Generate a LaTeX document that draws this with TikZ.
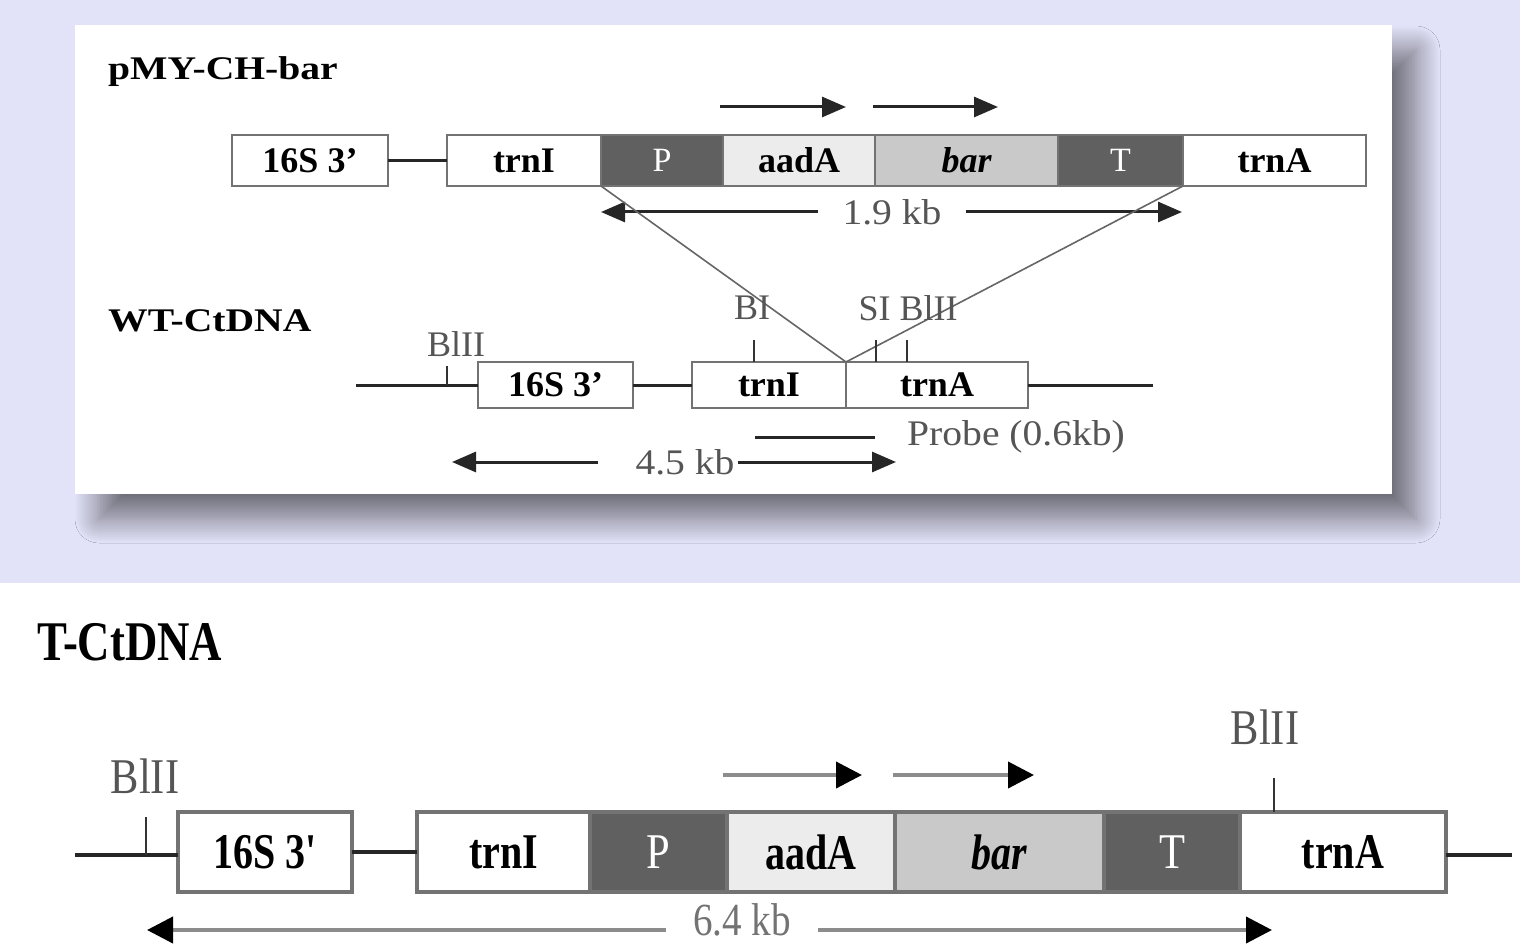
\documentclass[tikz,border=0pt]{standalone}
\usepackage{fontspec}
\setmainfont{Liberation Serif}
\newfontfamily\wideserif[FakeStretch=1.2]{Liberation Serif}
\newfontfamily\midserif[FakeStretch=1.1]{Liberation Serif}
\newfontfamily\narrowserif[FakeStretch=0.85]{Liberation Serif}
\newfontfamily\tightserif[FakeStretch=0.8]{Liberation Serif}
\usetikzlibrary{shadows.blur,arrows.meta}

\definecolor{lav}{RGB}{226,226,248}
\definecolor{boxedge}{RGB}{115,115,115}
\definecolor{darkfill}{RGB}{96,96,96}
\definecolor{lightfill}{RGB}{236,236,236}
\definecolor{midfill}{RGB}{201,201,201}
\definecolor{labgray}{RGB}{85,85,85}
\definecolor{linegray}{RGB}{140,140,140}

\begin{document}
\begin{tikzpicture}[x=1pt,y=-1pt,
  seg/.style={draw=boxedge, line width=2.5pt, inner sep=0pt, outer sep=0pt,
    minimum height=51pt, font=\fontsize{36}{38}\selectfont\bfseries},
  segB/.style={seg, minimum height=46pt},
  segC/.style={draw=boxedge, line width=3.5pt, inner sep=0pt, outer sep=0pt,
    minimum height=80pt, font=\fontsize{50}{54}\tightserif\bfseries},
  dark/.style={fill=darkfill, text=white},
  light/.style={fill=lightfill},
  mid/.style={fill=midfill},
  plain/.style={fill=white},
  wire/.style={line width=3pt, draw=black!85},
  wireC/.style={line width=3.5pt, draw=black!85},
  tick/.style={line width=2pt, draw=black!80},
  cross/.style={line width=1.6pt, draw=black!60},
  arr/.style={line width=3pt, draw=black!85, -{Triangle[length=24pt,width=20pt]}},
  arrC/.style={line width=4pt, draw=linegray, -{Triangle[length=26pt,width=26pt,color=black]}},
  title/.style={inner sep=0pt, anchor=base west, font=\fontsize{33}{35}\wideserif\bfseries},
  site/.style={inner sep=0pt, text=labgray, font=\fontsize{36}{38}\selectfont},
  size/.style={inner sep=0pt, text=labgray, font=\fontsize{36}{38}\midserif},
  siteC/.style={inner sep=0pt, text=labgray, font=\fontsize{50}{54}\narrowserif},
]
\useasboundingbox (0,0) rectangle (1520,944);

% backgrounds
\fill[lav] (0,0) rectangle (1520,583);
\fill[white] (0,583) rectangle (1520,944);
\fill[white, blur shadow={shadow xshift=24pt, shadow yshift=-25pt,
    shadow blur radius=24pt, shadow blur steps=16, shadow opacity=50}]
  (75,25) rectangle (1392,494);

% ---------------- plasmid pMY-CH-bar ----------------
\node[title] (tp) at (108,80) {pMY-CH-bar};

\node[seg, plain, minimum width=156pt] (s1) at (310,160.5) {16S 3'};
\node[seg, plain, minimum width=154pt] (i1) at (524,160.5) {trnI};
\node[seg, dark,  minimum width=122pt, font=\fontsize{34}{36}\selectfont] (p1) at (662,160.5) {P};
\node[seg, light, minimum width=152pt] (a1) at (799,160.5) {aadA};
\node[seg, mid,   minimum width=183pt] (b1) at (966.5,160.5) {\itshape bar};
\node[seg, dark,  minimum width=125pt, font=\fontsize{34}{36}\selectfont] (t1) at (1120.5,160.5) {T};
\node[seg, plain, minimum width=183pt] (r1) at (1274.5,160.5) {trnA};
\draw[wire] (s1.east) -- (i1.west);

% transcription direction
\coordinate (d1a) at (720,107);  \coordinate (d1b) at (846,107);
\coordinate (d2a) at (873,107);  \coordinate (d2b) at (998,107);
\draw[arr] (d1a) -- (d1b);
\draw[arr] (d2a) -- (d2b);

% insert size
\node[size, inner xsep=24pt] (n19) at (892,212) {1.9 kb};
\coordinate (e19l) at (601,212);
\coordinate (e19r) at (1182,212);
\draw[arr] (n19.west) -- (e19l);
\draw[arr] (n19.east) -- (e19r);

% ---------------- wild type ----------------
\node[title] (tw) at (108,331) {WT-CtDNA};

\node[segB, plain, minimum width=155pt] (s2) at (555.5,385) {16S 3'};
\node[segB, plain, minimum width=154pt] (i2) at (769,385) {trnI};
\node[segB, plain, minimum width=182pt] (r2) at (937,385) {trnA};
\coordinate (w0) at (356,385);
\coordinate (w1) at (1153,385);
\draw[wire] (w0) -- (s2.west);
\draw[wire] (s2.east) -- (i2.west);
\draw[wire] (r2.east) -- (w1);

% recombination
\draw[cross] (p1.south west) -- (r2.north west);
\draw[cross] (t1.south east) -- (r2.north west);

% restriction sites
\coordinate (k1) at (447,366);
\coordinate (k2) at (754,340);
\coordinate (k3) at (876,340);
\coordinate (k4) at (907,340);
\draw[tick] (k1) -- (k1 |- w0);
\draw[tick] (k2) -- (k2 |- i2.north);
\draw[tick] (k3) -- (k3 |- r2.north);
\draw[tick] (k4) -- (k4 |- r2.north);
\node[site] (l1) at (456,344) {BlII};
\node[site] (l2) at (752,308) {BI};
\node[site] (l3) at (908,308) {SI BlII};

% probe
\coordinate (pr1) at (755,437);
\coordinate (pr2) at (875,437);
\draw[wire] (pr1) -- (pr2);
\node[size, anchor=west] (np) at (907,437) {Probe (0.6kb)};

% fragment size
\node[size, inner xsep=3pt] (n45) at (685,462) {4.5 kb};
\coordinate (f45a) at (598,462);
\coordinate (f45l) at (452,462);
\coordinate (f45r) at (896,462);
\draw[arr] (f45a) -- (f45l);
\draw[arr] (n45.east) -- (f45r);

% ---------------- transformed ----------------
\node[inner sep=0pt, anchor=base west, font=\fontsize{56}{60}\tightserif\bfseries] (tt) at (37,660) {T-CtDNA};

\node[segC, plain, minimum width=174pt] (s3) at (265,852) {16S 3'};
\node[segC, plain, minimum width=173pt] (i3) at (503.5,852) {trnI};
\node[segC, dark,  minimum width=137pt, font=\fontsize{50}{54}\narrowserif] (p3) at (658.5,852) {P};
\node[segC, light, minimum width=168pt] (a3) at (811,852) {aadA};
\node[segC, mid,   minimum width=209pt] (b3) at (999.5,852) {\itshape bar};
\node[segC, dark,  minimum width=136pt, font=\fontsize{50}{54}\narrowserif] (t3) at (1172,852) {T};
\node[segC, plain, minimum width=206pt] (r3) at (1343,852) {trnA};
\coordinate (v0) at (75,855);
\coordinate (v1) at (1512,855);
\draw[wireC] (v0) -- (v0 -| s3.west);
\draw[wireC] (s3.east) -- (s3.east -| i3.west);
\draw[wireC] (v1 -| r3.east) -- (v1);

% restriction sites
\coordinate (m1) at (146,817);
\coordinate (m2) at (1274,778);
\draw[tick, line width=2.5pt] (m1) -- (m1 |- v0);
\draw[tick, line width=2.5pt] (m2) -- (m2 |- r3.north);
\node[siteC] (o1) at (145,776) {BlII};
\node[siteC] (o2) at (1265,727) {BlII};

% transcription direction
\coordinate (g1a) at (723,775);  \coordinate (g1b) at (862,775);
\coordinate (g2a) at (893,775);  \coordinate (g2b) at (1034,775);
\draw[arrC] (g1a) -- (g1b);
\draw[arrC] (g2a) -- (g2b);

% fragment size
\node[siteC, inner xsep=27pt, text=black!55, font=\fontsize{46}{50}\narrowserif] (n64) at (742,920) {6.4 kb};
\coordinate (h64l) at (147,930);
\coordinate (h64r) at (1272,930);
\draw[arrC] (n64.west |- h64l) -- (h64l);
\draw[arrC] (n64.east |- h64r) -- (h64r);
\end{tikzpicture}
\end{document}
